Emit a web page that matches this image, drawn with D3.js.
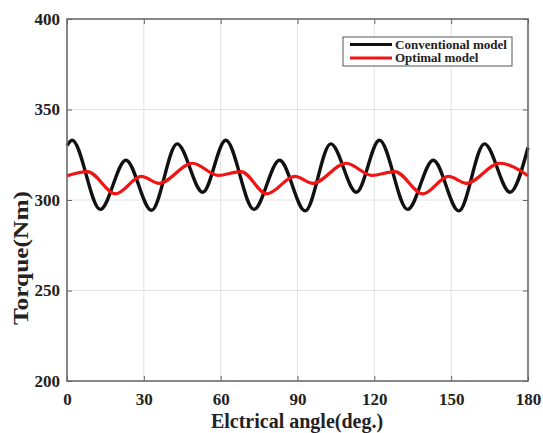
<!DOCTYPE html>
<html>
<head>
<meta charset="utf-8">
<script src="https://cdn.jsdelivr.net/npm/d3@7"></script>
<style>
  html, body { margin: 0; padding: 0; background: #fff; }
  svg { display: block; }
  text { font-family: "Liberation Serif", "Times New Roman", serif; font-weight: bold; fill: #222; }
</style>
</head>
<body>
<svg id="chart" width="543" height="433"></svg>
<script>
// ---- data ----
const xTicks = [0, 30, 60, 90, 120, 150, 180];
const yTicks = [200, 250, 300, 350, 400];

const convAngle  = [0, 2, 13, 23, 33, 43, 53, 62, 73, 83, 93, 103, 113, 122, 133, 143, 153, 163, 173, 180];
const convTorque = [330, 333, 294.8, 322, 294.3, 331, 304.3, 333, 294.8, 322, 294, 331, 304.3, 333, 294.8, 322, 294, 331, 304.3, 329];

const optAngle  = [0, 8, 19, 29, 36, 49, 59, 68, 78, 89, 96, 109, 119, 128, 139, 149, 156, 169, 180];
const optTorque = [313.4, 315.7, 303.4, 313, 309.2, 320.3, 313.6, 315.7, 303.4, 313, 309.2, 320.3, 313.6, 315.7, 303.4, 313, 309.2, 320.3, 313.4];

const seriesNames = ["Conventional model", "Optimal model"];
const seriesColors = ["#111111", "#f01414"];

// ---- layout ----
const svg = d3.select("#chart");
const L = 67, R = 528, T = 19, B = 381;
const x = d3.scaleLinear().domain([0, 180]).range([L, R]);
const y = d3.scaleLinear().domain([200, 400]).range([B, T]);

// grid
const grid = svg.append("g");
grid.selectAll("line.gx").data(xTicks.slice(1, -1)).enter().append("line")
  .attr("x1", d => x(d)).attr("x2", d => x(d)).attr("y1", T).attr("y2", B)
  .attr("stroke", "#e2e2e2").attr("stroke-width", 1);
grid.selectAll("line.gy").data(yTicks.slice(1, -1)).enter().append("line")
  .attr("x1", L).attr("x2", R).attr("y1", d => y(d)).attr("y2", d => y(d))
  .attr("stroke", "#e2e2e2").attr("stroke-width", 1);

// lines
const line = d3.line().curve(d3.curveMonotoneX).x(d => x(d[0])).y(d => y(d[1]));
const convData = convAngle.map((a, i) => [a, convTorque[i]]);
const optData = optAngle.map((a, i) => [a, optTorque[i]]);

svg.append("path").datum(convData).attr("d", line)
  .attr("fill", "none").attr("stroke", seriesColors[0]).attr("stroke-width", 3.4);
svg.append("path").datum(optData).attr("d", line)
  .attr("fill", "none").attr("stroke", seriesColors[1]).attr("stroke-width", 3.2);

// axes
function styleAxis(g) {
  g.select(".domain").remove();
  g.selectAll(".tick line").attr("stroke", "#666").attr("stroke-width", 1);
  g.selectAll(".tick text").attr("font-size", 17).attr("fill", "#222")
    .attr("font-family", "Liberation Serif, Times New Roman, serif").attr("font-weight", "bold");
}
svg.append("g").attr("transform", `translate(0,${B})`)
  .call(d3.axisBottom(x).tickValues(xTicks).tickSizeInner(-5).tickSizeOuter(0).tickPadding(12).tickFormat(d3.format("d")))
  .call(styleAxis);
svg.append("g").attr("transform", `translate(${L},0)`)
  .call(d3.axisLeft(y).tickValues(yTicks).tickSizeInner(-5).tickSizeOuter(0).tickPadding(7).tickFormat(d3.format("d")))
  .call(styleAxis);
svg.append("g").attr("transform", `translate(0,${T})`)
  .call(d3.axisTop(x).tickValues(xTicks).tickSizeInner(-5).tickSizeOuter(0).tickFormat(""))
  .call(styleAxis);
svg.append("g").attr("transform", `translate(${R},0)`)
  .call(d3.axisRight(y).tickValues(yTicks).tickSizeInner(-5).tickSizeOuter(0).tickFormat(""))
  .call(styleAxis);

// frame
svg.append("rect").attr("x", L).attr("y", T).attr("width", R - L).attr("height", B - T)
  .attr("fill", "none").attr("stroke", "#6a6a6a").attr("stroke-width", 1.6);

// axis titles
svg.append("text").attr("x", 297).attr("y", 428).attr("text-anchor", "middle")
  .attr("font-size", 20).text("Elctrical angle(deg.)");
svg.append("text").attr("transform", "translate(28,258) rotate(-90)").attr("text-anchor", "middle")
  .attr("font-size", 20).attr("textLength", 134).attr("lengthAdjust", "spacingAndGlyphs").text("Torque(Nm)");

// legend
const lg = svg.append("g");
lg.append("rect").attr("x", 343).attr("y", 37).attr("width", 169).attr("height", 29)
  .attr("fill", "#fff").attr("stroke", "#555").attr("stroke-width", 1);
const legY = [44.5, 58];
seriesNames.forEach((name, i) => {
  lg.append("line").attr("x1", 350).attr("x2", 392).attr("y1", legY[i]).attr("y2", legY[i])
    .attr("stroke", seriesColors[i]).attr("stroke-width", 3);
  lg.append("text").attr("x", 395).attr("y", legY[i] + 4).attr("font-size", 12.5)
    .attr("textLength", 112).attr("lengthAdjust", "spacingAndGlyphs")
    .text(name);
});
// keep second legend label at natural proportion
lg.selectAll("text").filter((d, i) => i === 1).attr("textLength", null).attr("font-size", 13);
lg.selectAll("text").filter((d, i) => i === 0).attr("font-size", 13);
</script>
</body>
</html>
